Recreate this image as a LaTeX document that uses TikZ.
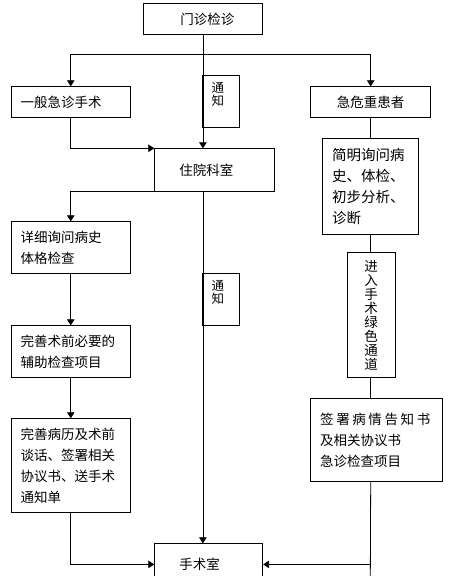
\documentclass[tikz,border=0pt]{standalone}
\usepackage{fontspec}
\newfontfamily\cjk{Noto Sans CJK SC}
\usetikzlibrary{arrows.meta}
\begin{document}
\begin{tikzpicture}[x=1pt,y=-1pt,
  box/.style={draw, line width=0.8pt, anchor=north west, inner xsep=9.5pt, inner ysep=0pt, align=left, font=\cjk\fontsize{13.5}{21}\selectfont},
  tag/.style={draw, line width=0.8pt, anchor=north west, minimum width=36.4pt, minimum height=52pt, inner sep=0pt,
    label={[anchor=north west, inner sep=0pt, align=left, font=\cjk\fontsize{12.5}{13.5}\selectfont, xshift=9pt, yshift=-6.5pt]north west:{通\\知}}},
  ln/.style={line width=0.8pt},
  arr/.style={line width=0.8pt, -{Triangle[length=6pt,width=7.5pt]}}]
\clip (0,0) rectangle (451,576);
\fill[white] (0,0) rectangle (451,576);

\node[box, text width=100.6pt, minimum height=31.6pt, align=center] (mz) at (142.7,2.7) {\hspace*{9pt}门诊检诊};
\node[box, text width=100.3pt, minimum height=31pt] (yb) at (10.7,86.3) {一般急诊手术};
\node[box, text width=101pt, minimum height=31pt, align=center] (jw) at (310.3,86.3) {急危重患者};
\node[box, text width=101pt, minimum height=42.4pt] (zy) at (154.3,148.3) {\hspace*{15.2pt}住院科室};
\node[box, text width=77pt, minimum height=96pt, font=\cjk\fontsize{14.5}{21}\selectfont] (jm) at (322.3,138.3) {简明询问病\\史、体检、\\初步分析、\\诊断};
\node[box, text width=100.3pt, minimum height=52pt] (xx) at (10.7,221.3) {详细询问病史\\体格检查};
\node[box, text width=100.3pt, minimum height=52pt] (ws) at (10.7,325.3) {完善术前必要的\\辅助检查项目};
\node[box, text width=100.3pt, minimum height=94pt] (wb) at (10.7,418.3) {完善病历及术前\\谈话、签署相关\\协议书、送手术\\通知单};
\node[box, inner xsep=0pt, text width=48pt, minimum height=125.3pt, align=center, font=\cjk\fontsize{13.5}{14}\selectfont] (jr) at (346.7,252) {进\\入\\手\\术\\绿\\色\\通\\道};
\node[box, text width=113pt, minimum height=82.7pt] (qs) at (310.3,398.3) {签\hspace{2.6pt}署\hspace{2.6pt}病\hspace{2.6pt}情\hspace{2.6pt}告\hspace{2.6pt}知\hspace{2.6pt}书\\及相关协议书\\急诊检查项目};
\node[box, text width=89pt, minimum height=41.4pt] (ss) at (154.3,543.3) {\hspace*{15.2pt}手术室};
\node[tag] (t1) at (202.3,75.3) {};
\node[tag] (t2) at (202.3,273.3) {};

\coordinate (fork) at (202.5,54.3);
\coordinate (bot) at (370.3,580);

\draw[arr] (mz.south) -- (mz.south |- zy.north);
\draw[arr] (fork) -| (yb.north);
\draw[arr] (fork) -| (jw.north);
\draw[arr] (yb.south) |- (zy.north west);
\draw[arr] (zy.south west) -| (xx.north);
\draw[arr] (mz.south |- zy.south) -- (mz.south |- ss.north);
\draw[arr] (xx.south) -- (ws.north);
\draw[arr] (ws.south) -- (wb.north);
\draw[arr] (wb.south) |- (ss.west);
\draw[ln] (jw.south) -- (jm.north);
\draw[ln] (jw.south |- jm.south) -- (jw.south |- jr.north);
\draw[ln] (jw.south |- jr.south) -- (jw.south |- qs.north);
\draw[ln] (jw.south |- qs.south) -- (bot);
\draw[arr] (jw.south |- ss.east) -- (ss.east);
\end{tikzpicture}
\end{document}
